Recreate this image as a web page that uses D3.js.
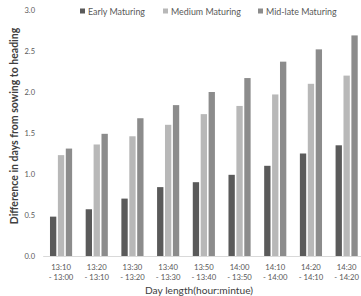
<!DOCTYPE html>
<html><head><meta charset="utf-8">
<script src="https://cdn.jsdelivr.net/npm/d3@7"></script>
<style>body{margin:0;background:#fff;}svg{display:block;font-family:Lato,"Open Sans",sans-serif;}</style>
</head><body>
<svg id="c" width="361" height="296"></svg>
<script>
const categories = [["13:10","- 13:00"],["13:20","- 13:10"],["13:30","- 13:20"],["13:40","- 13:30"],["13:50","- 13:40"],["14:00","- 13:50"],["14:10","- 14:00"],["14:20","- 14:10"],["14:30","- 14:20"]];
const seriesNames = ["Early Maturing","Medium Maturing","Mid-late Maturing"];
const early = [0.48,0.57,0.70,0.84,0.90,0.99,1.10,1.25,1.35];
const medium = [1.23,1.36,1.46,1.60,1.73,1.83,1.97,2.10,2.20];
const midlate = [1.31,1.49,1.68,1.84,2.00,2.17,2.37,2.52,2.69];
const yTicks = [0,0.5,1.0,1.5,2.0,2.5,3.0];
const colors = ["#5a5a5a","#b8b8b8","#8c8c8c"];

const svg = d3.select("#c");
const x0 = d3.scaleBand().domain(categories.map((d,i)=>i)).range([43.2,364.5]).paddingInner(0.38).paddingOuter(0.19);
const x1 = d3.scaleBand().domain([0,1,2]).range([0,x0.bandwidth()]).paddingInner(0.2);
const y = d3.scaleLinear().domain([0,3]).range([256,10]);
const series = [early,medium,midlate];

// bars
series.forEach((vals,s)=>{
  svg.append("g").selectAll("rect").data(vals).join("rect")
    .attr("x",(d,i)=>x0(i)+x1(s))
    .attr("width",x1.bandwidth())
    .attr("y",d=>y(d))
    .attr("height",d=>y(0)-y(d))
    .attr("fill",colors[s]);
});

// x axis line
svg.append("line").attr("x1",43.2).attr("x2",364.5).attr("y1",y(0)+0.5).attr("y2",y(0)+0.5).attr("stroke","#d9d9d9").attr("stroke-width",1);

// y ticks
const yAxis = d3.axisLeft(y).tickValues(yTicks).tickFormat(d3.format(".1f")).tickSize(0).tickPadding(0);
const ga = svg.append("g").attr("transform","translate(35,0)").call(yAxis);
ga.select(".domain").remove();
ga.selectAll("text").attr("fill","#595959").style("font-size","7.5px").style("font-family","Lato,'Open Sans',sans-serif");

// x labels
const xl = svg.append("g").selectAll("text").data(categories).join("text")
  .attr("text-anchor","middle").attr("fill","#595959").style("font-size","7.7px");
xl.append("tspan").attr("x",(d,i)=>x0(i)+x0.bandwidth()/2).attr("y",269.5).text(d=>d[0]);
xl.append("tspan").attr("x",(d,i)=>x0(i)+x0.bandwidth()/2).attr("y",279.5).text(d=>d[1]);

// axis titles
svg.append("text").attr("x",199).attr("y",294).attr("text-anchor","middle").attr("fill","#404040").style("font-size","10.2px").text("Day length(hour:mintue)");
svg.append("text").attr("transform","translate(18,126) rotate(-90)").attr("text-anchor","middle").attr("fill","#404040").style("font-size","10.5px").style("font-weight","bold").text("Difference in days from sowing to heading");

// legend
const legX = [80,163,258];
const leg = svg.append("g").selectAll("g").data(seriesNames).join("g").attr("transform",(d,i)=>`translate(${legX[i]},0)`);
leg.append("rect").attr("x",0).attr("y",8.5).attr("width",5).attr("height",5).attr("fill",(d,i)=>colors[i]);
leg.append("text").attr("x",8).attr("y",14.5).attr("fill","#595959").style("font-size","8.9px").text(d=>d);
</script>
</body></html>
